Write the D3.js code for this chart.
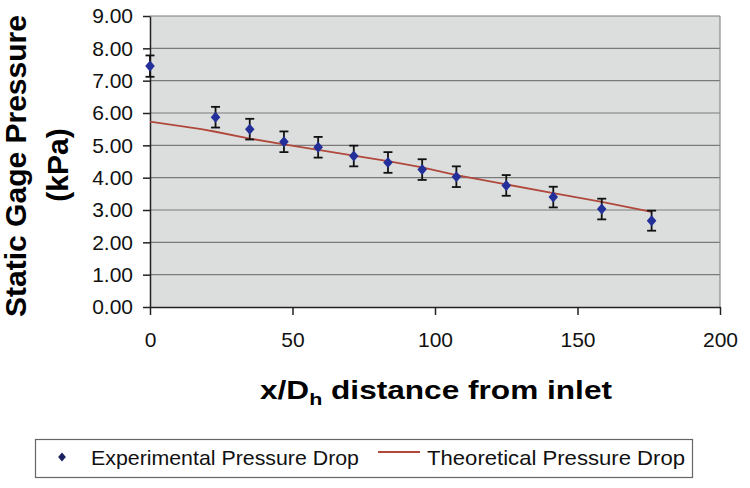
<!DOCTYPE html>
<html>
<head>
<meta charset="utf-8">
<script src="https://cdn.jsdelivr.net/npm/d3@7"></script>
<style>
  body { margin: 0; background: #fff; }
  svg { font-family: "Liberation Sans", Arial, sans-serif; }
  .grid line { stroke: #7a7a7a; stroke-width: 1.2; }
  .axis path, .axis line { stroke: #222; stroke-width: 1.5; }
  .axis text { fill: #111; font-size: 21px; }
</style>
</head>
<body>
<div id="chart"></div>
<script>
// experimental points
var expX = [0, 23, 35, 47, 59, 71.5, 83.5, 95.5, 107.5, 125, 141.5, 158.5, 176];
var expY = [7.45, 5.87, 5.50, 5.11, 4.94, 4.67, 4.47, 4.25, 4.03, 3.76, 3.40, 3.03, 2.67];
var expErr = [0.33, 0.32, 0.32, 0.32, 0.32, 0.32, 0.32, 0.32, 0.32, 0.32, 0.32, 0.32, 0.31];

// theoretical curve
var theoX = [0, 18, 23, 35, 47, 59, 71.5, 83.5, 95.5, 107.5, 125, 141.5, 158.5, 176];
var theoY = [5.73, 5.50, 5.42, 5.21, 5.03, 4.86, 4.68, 4.51, 4.32, 4.08, 3.79, 3.52, 3.25, 2.94];

var yTicks = [0, 1, 2, 3, 4, 5, 6, 7, 8, 9];
var xTicks = [0, 50, 100, 150, 200];
var seriesNames = ["Experimental Pressure Drop", "Theoretical Pressure Drop"];

var margin = { top: 16, right: 30, bottom: 181, left: 150 };
var width = 750 - margin.left - margin.right;
var height = 488 - margin.top - margin.bottom;

var svgRoot = d3.select("#chart").append("svg")
  .attr("width", 750)
  .attr("height", 488);

var svg = svgRoot.append("g")
  .attr("transform", "translate(" + margin.left + "," + margin.top + ")");

var x = d3.scaleLinear().domain([0, 200]).range([0, width]);
var y = d3.scaleLinear().domain([0, 9]).range([height, 0]);

// plot area
svg.append("rect")
  .attr("width", width)
  .attr("height", height)
  .attr("fill", "#dcdedd");

svg.append("g")
  .attr("class", "grid")
  .selectAll("line")
  .data(yTicks.slice(1))
  .enter().append("line")
  .attr("x1", 0)
  .attr("x2", width)
  .attr("y1", function(d){ return y(d); })
  .attr("y2", function(d){ return y(d); });

svg.append("line")
  .attr("x1", width).attr("x2", width)
  .attr("y1", 0).attr("y2", height)
  .attr("stroke", "#8a8a8a")
  .attr("stroke-width", 1.2);

// axes
svg.append("g")
  .attr("class", "axis x-axis")
  .attr("transform", "translate(0," + height + ")")
  .call(d3.axisBottom(x).tickValues(xTicks).tickSize(8).tickPadding(17).tickSizeOuter(0))
  .selectAll("text").attr("dy", "0.71em");

svg.append("g")
  .attr("class", "axis y-axis")
  .call(d3.axisLeft(y).tickValues(yTicks).tickFormat(d3.format(".2f")).tickSize(7).tickPadding(10).tickSizeOuter(0));

// theoretical line
var line = d3.line()
  .x(function(d){ return x(d[0]); })
  .y(function(d){ return y(d[1]); });

svg.append("path")
  .datum(d3.zip(theoX, theoY))
  .attr("fill", "none")
  .attr("stroke", "#b0483c")
  .attr("stroke-width", 1.8)
  .attr("d", line);

// error bars
var pts = expX.map(function(d, i){ return { x: d, y: expY[i], e: expErr[i] }; });

var bars = svg.append("g").selectAll("g")
  .data(pts)
  .enter().append("g")
  .attr("stroke", "#111")
  .attr("stroke-width", 1.8);

bars.append("line")
  .attr("x1", function(d){ return x(d.x); })
  .attr("x2", function(d){ return x(d.x); })
  .attr("y1", function(d){ return y(d.y + d.e); })
  .attr("y2", function(d){ return y(d.y - d.e); });

[1, -1].forEach(function(s){
  bars.append("line")
    .attr("x1", function(d){ return x(d.x) - 4.5; })
    .attr("x2", function(d){ return x(d.x) + 4.5; })
    .attr("y1", function(d){ return y(d.y + s * d.e); })
    .attr("y2", function(d){ return y(d.y + s * d.e); });
});

// markers
var diamond = d3.symbol().type(d3.symbolSquare).size(46);

svg.append("g").selectAll("path")
  .data(pts)
  .enter().append("path")
  .attr("d", diamond)
  .attr("fill", "#24309a")
  .attr("transform", function(d){
    return "translate(" + x(d.x) + "," + y(d.y) + ")scale(1,1.15)rotate(45)";
  });

// axis titles
svgRoot.append("text")
  .attr("text-anchor", "middle")
  .attr("font-weight", "bold")
  .attr("font-size", 30)
  .attr("transform", "translate(26,166)rotate(-90)")
  .text("Static Gage Pressure");

svgRoot.append("text")
  .attr("text-anchor", "middle")
  .attr("font-weight", "bold")
  .attr("font-size", 30)
  .attr("transform", "translate(68,165)rotate(-90)")
  .text("(kPa)");

var xTitle = svgRoot.append("text")
  .attr("x", 260)
  .attr("y", 399)
  .attr("font-weight", "bold")
  .attr("font-size", 25)
  .attr("textLength", 352)
  .attr("lengthAdjust", "spacingAndGlyphs");
xTitle.append("tspan").text("x/D");
xTitle.append("tspan").attr("font-size", 17).attr("dy", 6).text("h");
xTitle.append("tspan").attr("dy", -6).text(" distance from inlet");

// legend
var legend = svgRoot.append("g");

legend.append("rect")
  .attr("x", 35.5).attr("y", 439.5)
  .attr("width", 657).attr("height", 38)
  .attr("fill", "#fff")
  .attr("stroke", "#666")
  .attr("stroke-width", 1.2);

legend.append("path")
  .attr("d", d3.symbol().type(d3.symbolSquare).size(30))
  .attr("fill", "#1a2060")
  .attr("transform", "translate(62,457)scale(1,1.15)rotate(45)");

legend.append("text")
  .attr("x", 91).attr("y", 465)
  .attr("font-size", 21)
  .attr("fill", "#111")
  .attr("textLength", 268)
  .attr("lengthAdjust", "spacingAndGlyphs")
  .text(seriesNames[0]);

legend.append("line")
  .attr("x1", 378).attr("x2", 420)
  .attr("y1", 452).attr("y2", 452)
  .attr("stroke", "#b0483c")
  .attr("stroke-width", 1.8);

legend.append("text")
  .attr("x", 427).attr("y", 465)
  .attr("font-size", 21)
  .attr("fill", "#111")
  .attr("textLength", 258)
  .attr("lengthAdjust", "spacingAndGlyphs")
  .text(seriesNames[1]);
</script>
</body>
</html>
